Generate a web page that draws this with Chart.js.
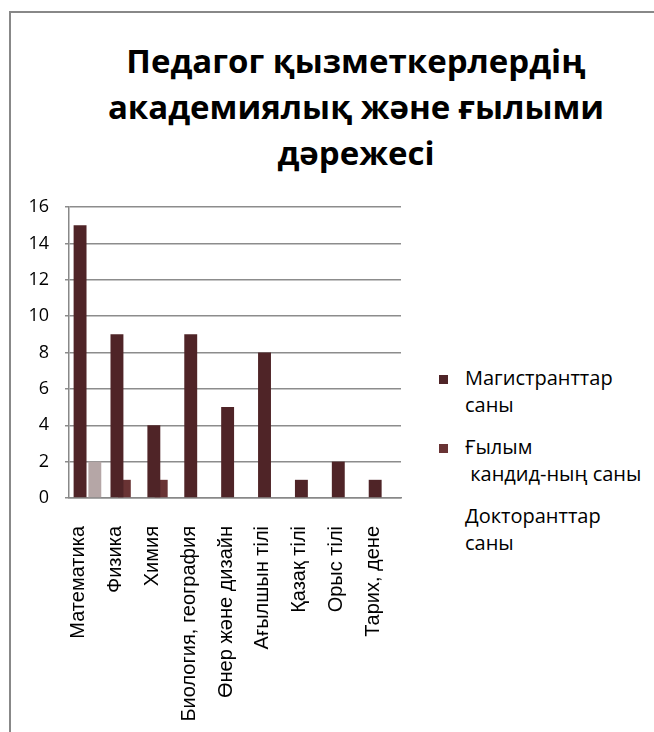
<!DOCTYPE html>
<html>
<head>
<meta charset="utf-8">
<script src="https://cdn.jsdelivr.net/npm/chart.js@4.4.0/dist/chart.umd.min.js"></script>
<style>
  html, body { margin: 0; padding: 0; background: #fff; width: 654px; height: 732px; overflow: hidden; }
  #frame { position: absolute; left: 9px; top: 11px; width: 800px; height: 800px; border-top: 2px solid #888; border-left: 2px solid #888; }
  #title { position: absolute; left: 0; top: 38px; width: 712px; text-align: center; font-family: 'Open Sans', sans-serif; font-weight: bold; font-size: 33px; line-height: 46px; color: #000; }
  #wrap { position: absolute; left: 10px; top: 180px; width: 417px; height: 552px; }
  #legend { position: absolute; left: 439px; top: 364px; font-family: 'Open Sans', sans-serif; font-size: 20px; line-height: 27px; color: #000; }
  .item { position: relative; padding-left: 26px; margin-bottom: 15px; }
  .box { position: absolute; left: 0; top: 11px; width: 9px; height: 9px; }
</style>
</head>
<body>
<div id="frame"></div>
<div id="title">Педагог қызметкерлердің<br>академиялық және ғылыми<br>дәрежесі</div>
<div id="wrap"><canvas id="chart"></canvas></div>
<div id="legend"></div>
<script>
const categories = ['Математика', 'Физика', 'Химия', 'Биология, география', 'Өнер және дизайн', 'Ағылшын тілі', 'Қазақ тілі', 'Орыс тілі', 'Тарих, дене'];
const masters = [15, 9, 4, 9, 5, 8, 1, 2, 1];
const candidates = [0, 1, 1, 0, 0, 0, 0, 0, 0];
const doctoral = [2, 0, 0, 0, 0, 0, 0, 0, 0];
const seriesNames = [['Магистранттар', 'саны'], ['Ғылым', '\u00a0кандид-ның саны'], ['Докторанттар', 'саны']];
const seriesColors = ['#4f2427', '#693334', '#b5a6a6'];
const legendColors = ['#4f2427', '#693334', 'transparent'];

const datasets = [masters, candidates, doctoral].map((d, i) => ({
  label: seriesNames[i].join(' '),
  data: d,
  backgroundColor: seriesColors[i],
  borderWidth: 0,
  categoryPercentage: 0.6,
  barPercentage: 1.75
}));

// legend drawn as html, lines broken like the original
const legendEl = document.getElementById('legend');
seriesNames.forEach((lines, i) => {
  const div = document.createElement('div');
  div.className = 'item';
  div.innerHTML = `<span class="box" style="background:${legendColors[i]}"></span>${lines.join('<br>')}`;
  legendEl.appendChild(div);
});

const ctx = document.getElementById('chart').getContext('2d');
new Chart(ctx, {
  type: 'bar',
  data: { labels: categories, datasets: datasets },
  options: {
    responsive: true,
    maintainAspectRatio: false,
    animation: false,
    layout: { padding: { top: 27, right: 8, left: 0, bottom: 0 } },
    plugins: { legend: { display: false }, tooltip: { enabled: false } },
    scales: {
      x: {
        grid: { display: false },
        border: { display: true, color: '#888', width: 1.5 },
        ticks: {
          color: '#000',
          font: { family: "'Liberation Sans', Arial, sans-serif", size: 20 },
          minRotation: 90, maxRotation: 90,
          autoSkip: false,
          padding: 20,
          labelOffset: -9
        },
        afterFit: s => { s.height = 234; }
      },
      y: {
        min: 0, max: 16,
        ticks: {
          stepSize: 2,
          color: '#000',
          font: { family: "'Open Sans', sans-serif", size: 18 },
          padding: 16
        },
        grid: { color: '#8c8c8c', lineWidth: 1.5, tickLength: 4 },
        border: { display: true, color: '#888', width: 1.5 },
        afterFit: s => { s.width = 59; }
      }
    }
  }
});
</script>
</body>
</html>
